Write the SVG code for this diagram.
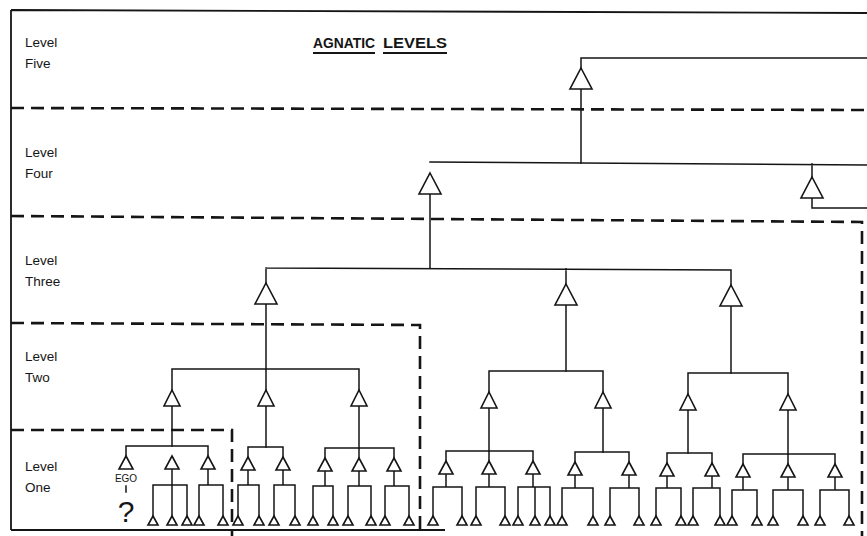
<svg xmlns="http://www.w3.org/2000/svg" width="867" height="536" viewBox="0 0 867 536">
<style>
.bg{fill:#ffffff}
.ln{stroke:#151515;stroke-width:1.5;fill:none;stroke-linecap:square;stroke-linejoin:miter}
.frame{stroke:#151515;stroke-width:1.8;fill:none}
.uline{stroke:#151515;stroke-width:2.2;fill:none}
.dash{stroke:#151515;stroke-width:2.6;fill:none;stroke-dasharray:13 7}
.tri{fill:#ffffff;stroke:#151515;stroke-width:1.6;stroke-linejoin:miter}
.lbl{font-family:"Liberation Sans",Arial,sans-serif;font-size:13.5px;fill:#151515}
.title{font-family:"Liberation Sans",Arial,sans-serif;font-size:14px;font-weight:bold;fill:#151515}
.ego{font-family:"Liberation Sans",Arial,sans-serif;font-size:10px;fill:#151515;text-anchor:middle}
.q{font-family:"Liberation Sans",Arial,sans-serif;font-size:30px;fill:#151515;text-anchor:middle}
</style>
<defs>
<path id="tL" d="M0,0 L11,21 L-11,21 Z"/>
<path id="tM" d="M0,0 L8,16 L-8,16 Z"/>
<path id="tS" d="M0,0 L7,13 L-7,13 Z"/>
<path id="tX" d="M0,0 L5,9 L-5,9 Z"/>
</defs>
<rect class="bg" x="0" y="0" width="867" height="536"/>

<g id="frame">
<path class="frame" d="M11,10 L867,13 M11,10 V530 M11,530 H445"/>
<path class="dash" d="M11,108 L867,110"/>
<path class="dash" d="M11,216 L862,222 V536"/>
<path class="dash" d="M11,323 L420,325 V536"/>
<path class="dash" d="M11,430 H232 V536"/>
</g>

<g id="labels">
<text class="lbl" x="25" y="47">Level</text>
<text class="lbl" x="25" y="68">Five</text>
<text class="lbl" x="25" y="157">Level</text>
<text class="lbl" x="25" y="178">Four</text>
<text class="lbl" x="25" y="265">Level</text>
<text class="lbl" x="25" y="286">Three</text>
<text class="lbl" x="25" y="361">Level</text>
<text class="lbl" x="25" y="382">Two</text>
<text class="lbl" x="25" y="471">Level</text>
<text class="lbl" x="25" y="492">One</text>
<text class="title" x="313" y="48" textLength="62" lengthAdjust="spacingAndGlyphs">AGNATIC</text>
<text class="title" x="383" y="48" textLength="64" lengthAdjust="spacingAndGlyphs">LEVELS</text>
<path class="uline" d="M313,53 H375 M383,53 H447"/>
<text class="ego" x="126" y="482">EGO</text>
<text class="q" x="126" y="522">?</text>
</g>

<g id="connectors" class="ln">
<path d="M581,58 H867 M581,58 V68 M581,89 V163"/>
<path d="M430,162 L867,165 M812,164 V177 M812,198 V208 H867 M430,194 V268"/>
<path d="M266,268 L731,270 M266,268 V283 M566,269 V284 M731,270 V285 M266,304 V369 M566,305 V371 M731,306 V373"/>
<path d="M172,369 H359 M172,369 V390 M266,369 V390 M359,369 V390 M172,406 V446 M266,406 V447 M359,406 V448"/>
<path d="M489,371 H603 M489,371 V392 M603,371 V392 M489,408 V451 M603,408 V452"/>
<path d="M688,373 H788 M688,373 V394 M788,373 V394 M688,410 V453 M788,410 V454"/>
<path d="M126,446 H208 M126,446 V456 M208,446 V456 M172,469 V485 M153,485 H187 M153,485 V516 M172,485 V516 M187,485 V516 M208,469 V485 M199,485 H223 M199,485 V516 M223,485 V516"/>
<path d="M126,486 V492"/>
<path d="M248,447 H283 M248,447 V457 M283,447 V457 M248,470 V485 M238,485 H259 M238,485 V516 M259,485 V516 M283,470 V485 M274,485 H295 M274,485 V516 M295,485 V516"/>
<path d="M325,448 H394 M325,448 V458 M359,448 V458 M394,448 V458 M325,471 V486 M313,486 H333 M313,486 V516 M333,486 V516 M359,471 V486 M348,486 H371 M348,486 V516 M371,486 V516 M394,471 V486 M385,486 H409 M385,486 V516 M409,486 V516"/>
<path d="M446,451 H533 M446,451 V461 M489,451 V461 M533,451 V461 M446,474 V487 M433,487 H462 M433,487 V516 M462,487 V516 M489,474 V487 M476,487 H505 M476,487 V516 M505,487 V516 M533,474 V487 M518,487 H550 M518,487 V516 M535,487 V516 M550,487 V516"/>
<path d="M575,452 H629 M575,452 V462 M629,452 V462 M575,475 V488 M562,488 H593 M562,488 V516 M593,488 V516 M629,475 V488 M610,488 H639 M610,488 V516 M639,488 V516"/>
<path d="M667,453 H712 M667,453 V463 M712,453 V463 M667,476 V488 M656,488 H681 M656,488 V516 M681,488 V516 M712,476 V488 M693,488 H720 M693,488 V516 M720,488 V516"/>
<path d="M743,454 H835 M743,454 V464 M788,454 V464 M835,454 V464 M743,477 V490 M732,490 H757 M732,490 V516 M757,490 V516 M788,477 V490 M773,490 H803 M773,490 V516 M803,490 V516 M835,477 V490 M820,490 H849 M820,490 V516 M849,490 V516"/>
</g>

<g id="nodes" class="tri">
<g id="n5"><use href="#tL" x="581" y="68"/></g>
<g id="n4a"><use href="#tL" x="430" y="173"/></g>
<g id="n4b"><use href="#tL" x="812" y="177"/></g>
<g id="n3a"><use href="#tL" x="266" y="283"/></g>
<g id="n3b"><use href="#tL" x="566" y="284"/></g>
<g id="n3c"><use href="#tL" x="731" y="285"/></g>
<g id="n2a"><use href="#tM" x="172" y="390"/></g>
<g id="n2b"><use href="#tM" x="266" y="390"/></g>
<g id="n2c"><use href="#tM" x="359" y="390"/></g>
<g id="n2d"><use href="#tM" x="489" y="392"/></g>
<g id="n2e"><use href="#tM" x="603" y="392"/></g>
<g id="n2f"><use href="#tM" x="688" y="394"/></g>
<g id="n2g"><use href="#tM" x="788" y="394"/></g>
<g id="n1-ego"><use href="#tS" x="126" y="456"/></g>
<g id="n1a2"><use href="#tS" x="172" y="456"/></g>
<g id="n1a3"><use href="#tS" x="208" y="456"/></g>
<g id="n1b1"><use href="#tS" x="248" y="457"/></g>
<g id="n1b2"><use href="#tS" x="283" y="457"/></g>
<g id="n1c1"><use href="#tS" x="325" y="458"/></g>
<g id="n1c2"><use href="#tS" x="359" y="458"/></g>
<g id="n1c3"><use href="#tS" x="394" y="458"/></g>
<g id="n1d1"><use href="#tS" x="446" y="461"/></g>
<g id="n1d2"><use href="#tS" x="489" y="461"/></g>
<g id="n1d3"><use href="#tS" x="533" y="461"/></g>
<g id="n1e1"><use href="#tS" x="575" y="462"/></g>
<g id="n1e2"><use href="#tS" x="629" y="462"/></g>
<g id="n1f1"><use href="#tS" x="667" y="463"/></g>
<g id="n1f2"><use href="#tS" x="712" y="463"/></g>
<g id="n1g1"><use href="#tS" x="743" y="464"/></g>
<g id="n1g2"><use href="#tS" x="788" y="464"/></g>
<g id="n1g3"><use href="#tS" x="835" y="464"/></g>
<g id="leaf01"><use href="#tX" x="153" y="516"/></g>
<g id="leaf02"><use href="#tX" x="172" y="516"/></g>
<g id="leaf03"><use href="#tX" x="187" y="516"/></g>
<g id="leaf04"><use href="#tX" x="199" y="516"/></g>
<g id="leaf05"><use href="#tX" x="223" y="516"/></g>
<g id="leaf06"><use href="#tX" x="238" y="516"/></g>
<g id="leaf07"><use href="#tX" x="259" y="516"/></g>
<g id="leaf08"><use href="#tX" x="274" y="516"/></g>
<g id="leaf09"><use href="#tX" x="295" y="516"/></g>
<g id="leaf10"><use href="#tX" x="313" y="516"/></g>
<g id="leaf11"><use href="#tX" x="333" y="516"/></g>
<g id="leaf12"><use href="#tX" x="348" y="516"/></g>
<g id="leaf13"><use href="#tX" x="371" y="516"/></g>
<g id="leaf14"><use href="#tX" x="385" y="516"/></g>
<g id="leaf15"><use href="#tX" x="409" y="516"/></g>
<g id="leaf16"><use href="#tX" x="433" y="516"/></g>
<g id="leaf17"><use href="#tX" x="462" y="516"/></g>
<g id="leaf18"><use href="#tX" x="476" y="516"/></g>
<g id="leaf19"><use href="#tX" x="505" y="516"/></g>
<g id="leaf20"><use href="#tX" x="518" y="516"/></g>
<g id="leaf21"><use href="#tX" x="535" y="516"/></g>
<g id="leaf22"><use href="#tX" x="550" y="516"/></g>
<g id="leaf23"><use href="#tX" x="562" y="516"/></g>
<g id="leaf24"><use href="#tX" x="593" y="516"/></g>
<g id="leaf25"><use href="#tX" x="610" y="516"/></g>
<g id="leaf26"><use href="#tX" x="639" y="516"/></g>
<g id="leaf27"><use href="#tX" x="656" y="516"/></g>
<g id="leaf28"><use href="#tX" x="681" y="516"/></g>
<g id="leaf29"><use href="#tX" x="693" y="516"/></g>
<g id="leaf30"><use href="#tX" x="720" y="516"/></g>
<g id="leaf31"><use href="#tX" x="732" y="516"/></g>
<g id="leaf32"><use href="#tX" x="757" y="516"/></g>
<g id="leaf33"><use href="#tX" x="773" y="516"/></g>
<g id="leaf34"><use href="#tX" x="803" y="516"/></g>
<g id="leaf35"><use href="#tX" x="820" y="516"/></g>
<g id="leaf36"><use href="#tX" x="849" y="516"/></g>
</g>
</svg>
